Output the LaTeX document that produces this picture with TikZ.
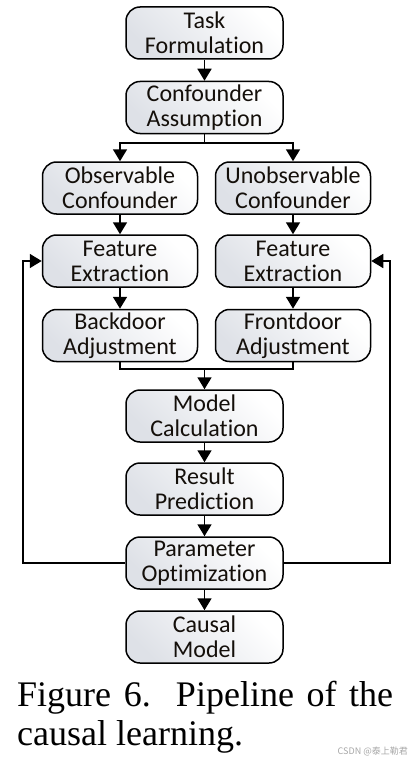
\documentclass[tikz,border=0pt]{standalone}
\usepackage{fontspec}
\setmainfont{Liberation Serif}
\newfontfamily\boxfont[Ligatures=NoCommon]{Carlito}
\newfontfamily\cjkfont{Noto Sans CJK SC}
\usepackage{xcolor}
\usetikzlibrary{arrows.meta}

\definecolor{boxgray}{RGB}{222,225,231}
\definecolor{boxtext}{RGB}{20,15,10}

\tikzset{
    stage/.style={draw, line width=1.5pt, rounded corners=14pt,
        minimum width=157pt, minimum height=52pt, inner sep=0pt,
        align=center, top color=white, bottom color=boxgray, shading angle=-45,
        text=boxtext, font=\boxfont\fontsize{24}{25}\selectfont},
    side/.style={stage, minimum width=155pt},
    arr/.style={-{Triangle[length=12pt,width=14pt]}, line width=1.6pt},
    link/.style={line width=1.6pt}
}

\begin{document}
\begin{tikzpicture}[x=1pt,y=-1pt]
                    \useasboundingbox (0,0) rectangle (412,765);

                    % middle column
                    \node[stage] (task)   at (204.5,33)  {Task\\Formulation};
                    \node[stage] (conf)   at (204.5,107.5) {Confounder\\Assumption};
                    \node[stage] (model)  at (204.5,416) {Model\\Calculation};
                    \node[stage] (result) at (204.5,489) {Result\\Prediction};
                    \node[stage] (param)  at (204.5,563) {Parameter\\Optimization};
                    \node[stage] (causal) at (204.5,637) {Causal\\Model};

                    % two branches
                    \node[side] (obs)   at (120,188)   {Observable\\Confounder};
                    \node[side] (unobs) at (293,188)   {Unobservable\\Confounder};
                    \node[side] (featl) at (120,261)   {Feature\\Extraction};
                    \node[side] (featr) at (293,261)   {Feature\\Extraction};
                    \node[side] (back)  at (120,335.5) {Backdoor\\Adjustment};
                    \node[side] (front) at (293,335.5) {Frontdoor\\Adjustment};

                    \coordinate (split) at (204.5,143);
                    \coordinate (merge) at (204.5,369);
                    \coordinate (lbend) at (23,563);
                    \coordinate (rbend) at (390,563);

                    \foreach \a/\b in {task/conf, model/result, result/param, param/causal,
                                       obs/featl, featl/back, unobs/featr, featr/front}
                        \draw[arr] (\a) -- (\b);

                    \draw[link] (conf.south) -- (split);
                    \draw[arr] (split) -| (obs.north);
                    \draw[arr] (split) -| (unobs.north);

                    \draw[link] (back.south) |- (merge) -| (front.south);
                    \draw[arr] (merge) -- (model);

                    \draw[arr] (param.west) -- (lbend) |- (featl.west);
                    \draw[arr] (param.east) -- (rbend) |- (featr.east);

                    % caption
                    \node[anchor=base west, inner sep=0pt, font=\fontsize{36}{38}\selectfont] (cap1) at (17,706)
                        {\makebox[376pt][s]{Figure 6.\ \ Pipeline of the}};
                    \node[anchor=base west, inner sep=0pt, font=\fontsize{36}{38}\selectfont] (cap2) at (17,745)
                        {causal learning.};
                    \node[anchor=base east, inner sep=0pt, text=gray!70, font=\cjkfont\fontsize{9}{10}\selectfont] (mark) at (408,754)
                        {CSDN @泰上勒君};
                \end{tikzpicture}
\end{document}
